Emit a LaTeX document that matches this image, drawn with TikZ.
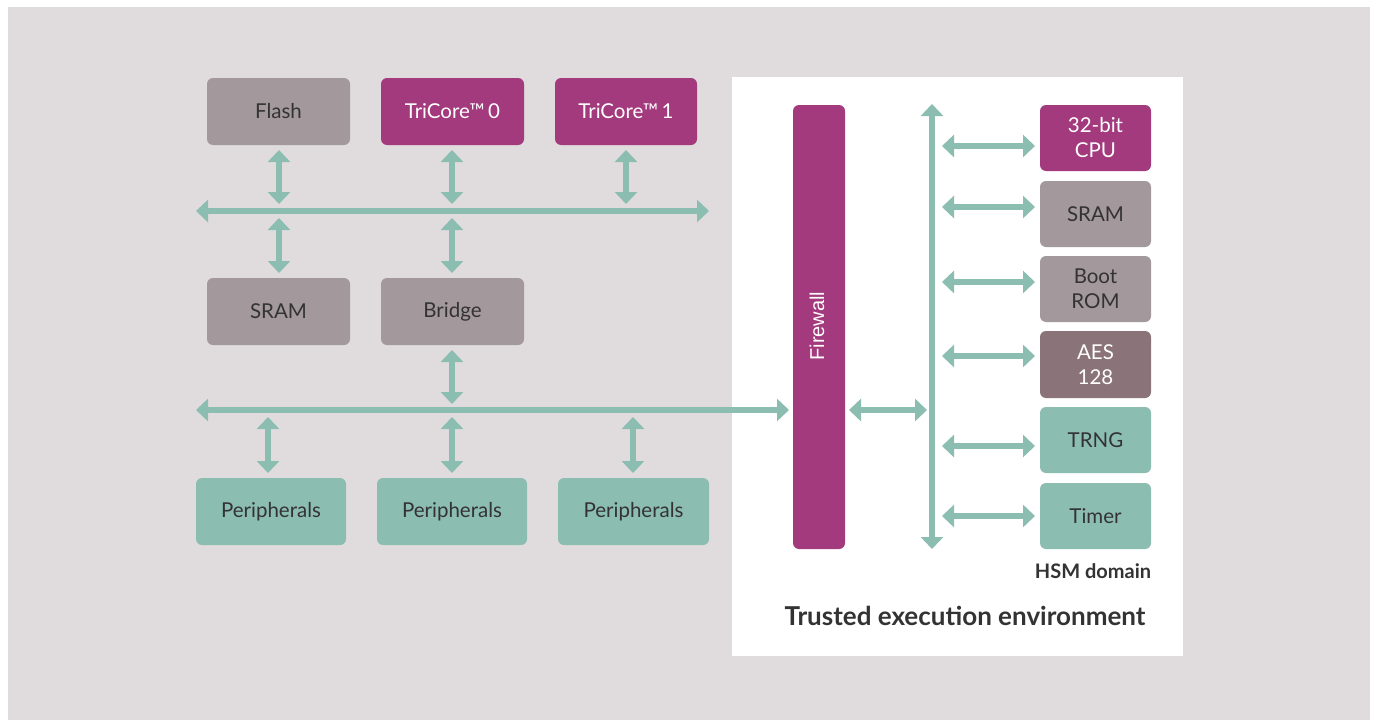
\documentclass[tikz,border=0pt]{standalone}
\usepackage{fontspec}
\setmainfont{Lato}
\newfontfamily\fwfont{Liberation Sans}
\usetikzlibrary{arrows.meta}
\definecolor{bgc}{HTML}{E0DCDD}
\definecolor{grayb}{HTML}{A3989B}
\definecolor{magb}{HTML}{A43A7E}
\definecolor{tealb}{HTML}{8CBDB1}
\definecolor{aesb}{HTML}{8A7479}
\definecolor{txt}{HTML}{333333}
\tikzset{
  box/.style={rounded corners=6pt, inner sep=0pt, align=center, font=\fontsize{20.5}{25}\selectfont},
  graybox/.style={box, fill=grayb, text=txt},
  magbox/.style={box, fill=magb, text=white},
  tealbox/.style={box, fill=tealb, text=txt},
  aesbox/.style={box, fill=aesb, text=white},
  conn/.style={draw=tealb, line width=6pt, {Triangle[length=12pt,width=22pt]}-{Triangle[length=12pt,width=22pt]}},
  connr/.style={draw=tealb, line width=6pt, -{Triangle[length=12pt,width=22pt]}},
}
\begin{document}
\begin{tikzpicture}[x=1pt,y=-1pt]
\useasboundingbox (0,0) rectangle (1377,720);
\fill[white] (0,0) rectangle (1377,720);
\fill[bgc] (8,7) rectangle (1370,720);
\fill[white] (732,77) rectangle (1183,656);
% left top row
\node[graybox, minimum width=143pt, minimum height=67pt] (flash) at (278.5,111.5) {Flash};
\node[magbox, minimum width=143pt, minimum height=67pt] (tc0) at (452.5,111.5) {TriCore™\,0};
\node[magbox, minimum width=142pt, minimum height=67pt] (tc1) at (626,111.5) {TriCore™\,1};
\node[graybox, minimum width=143pt, minimum height=67pt] (sram) at (278.5,311.5) {SRAM};
\node[graybox, minimum width=143pt, minimum height=67pt] (bridge) at (452.5,311.5) {Bridge};
\node[tealbox, minimum width=150pt, minimum height=67pt] (p1) at (271,511.5) {Peripherals};
\node[tealbox, minimum width=150pt, minimum height=67pt] (p2) at (452,511.5) {Peripherals};
\node[tealbox, minimum width=151pt, minimum height=67pt] (p3) at (633.5,511.5) {Peripherals};
% firewall
\node[magbox, minimum width=52pt, minimum height=444pt] (fw) at (819,327) {};
\node[text=white, rotate=90, inner sep=0pt, font=\fwfont\fontsize{20}{22}\selectfont] (fwt) at (817,326) {Firewall};
% right column
\node[magbox, minimum width=111pt, minimum height=66pt] (cpu) at (1095.5,138) {32-bit\\CPU};
\node[graybox, minimum width=111pt, minimum height=66pt] (hsram) at (1095.5,214) {SRAM};
\node[graybox, minimum width=111pt, minimum height=66pt] (rom) at (1095.5,289) {Boot\\ROM};
\node[aesbox, minimum width=111pt, minimum height=67pt] (aes) at (1095.5,364.5) {AES\\128};
\node[tealbox, minimum width=111pt, minimum height=66pt] (trng) at (1095.5,440) {TRNG};
\node[tealbox, minimum width=111pt, minimum height=66pt] (timer) at (1095.5,516) {Timer};
\node[text=txt, font=\bfseries\fontsize{20}{22}\selectfont] (hsm) at (1093,571) {HSM domain};
\node[text=txt, font=\bfseries\fontsize{26}{30}\selectfont] (tee) at (965,616) {Trusted execution environment};
% bus coordinates
\coordinate (b1l) at (196,211);
\coordinate (b1r) at (709,211);
\coordinate (b2l) at (196,410);
\coordinate (b2r) at (789,410);
\coordinate (hbt) at (932,104);
\coordinate (hbb) at (932,549);
\draw[conn] (b1l) -- (b1r);
\draw[conn] (b2l) -- (b2r);
\draw[conn] (hbt) -- (hbb);
% vertical connectors
\coordinate (v1a) at (279,150); \coordinate (v1b) at (279,204);
\coordinate (v2a) at (452,150); \coordinate (v2b) at (452,204);
\coordinate (v3a) at (626,150); \coordinate (v3b) at (626,204);
\coordinate (v4a) at (279,218); \coordinate (v4b) at (279,273);
\coordinate (v5a) at (452,218); \coordinate (v5b) at (452,273);
\coordinate (v6a) at (452,350); \coordinate (v6b) at (452,404);
\coordinate (v7a) at (268,417); \coordinate (v7b) at (268,473);
\coordinate (v8a) at (452,417); \coordinate (v8b) at (452,473);
\coordinate (v9a) at (633,417); \coordinate (v9b) at (633,473);
\foreach \i in {1,...,9}{\draw[conn] (v\i a) -- (v\i b);}
% firewall to hsm bus
\coordinate (fa) at (849,410); \coordinate (fb) at (927,410);
\draw[conn] (fa) -- (fb);
% hsm arrows
\foreach \yy in {146,207,282,356,446,516}{
  \draw[conn] (942,\yy) -- (1035,\yy);
}
\end{tikzpicture}
\end{document}
